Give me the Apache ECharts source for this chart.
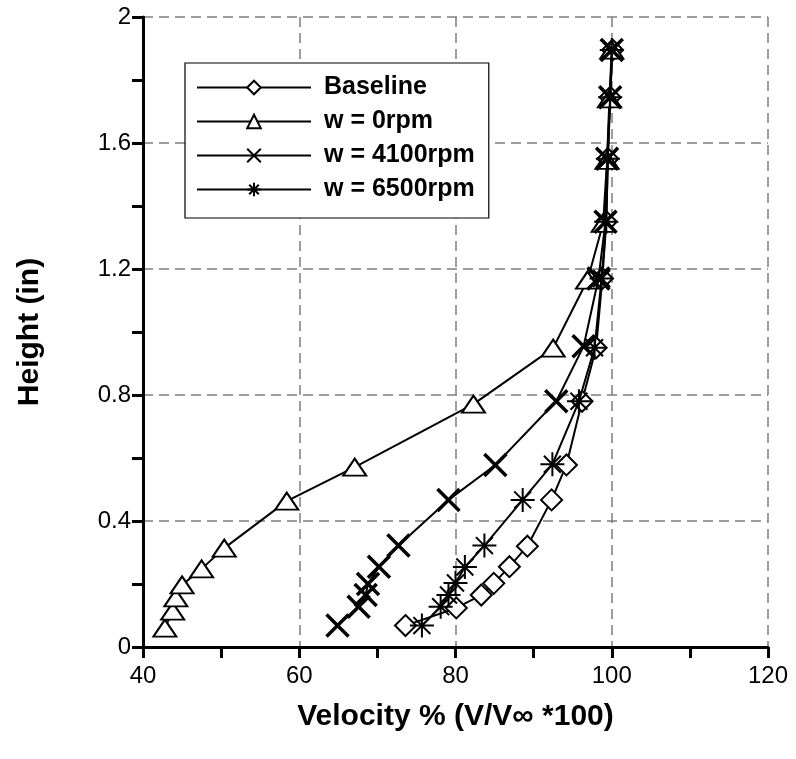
<!DOCTYPE html>
<html>
<head>
<meta charset="utf-8">
<script src="https://cdn.jsdelivr.net/npm/echarts@6/dist/echarts.min.js"></script>
<style>html,body{margin:0;padding:0;background:#fff}#c{width:796px;height:759px}</style>
</head>
<body>
<div id="c"></div>
<script>
const seriesNames = ['Baseline', 'w = 0rpm', 'w = 4100rpm', 'w = 6500rpm'];

const baselineH = [0.068, 0.124, 0.165, 0.202, 0.255, 0.32, 0.467, 0.578, 0.78, 0.95, 1.17, 1.35, 1.55, 1.745, 1.895];
const baselineV = [73.6, 80.1, 83.3, 84.9, 86.9, 89.2, 92.3, 94.2, 96.2, 98.0, 98.8, 99.3, 99.5, 99.8, 100.1];

const rpm0H = [0.06, 0.114, 0.156, 0.197, 0.248, 0.314, 0.463, 0.571, 0.771, 0.949, 1.165, 1.345, 1.545, 1.74, 1.895];
const rpm0V = [42.8, 43.8, 44.2, 45.0, 47.5, 50.4, 58.4, 67.1, 82.3, 92.5, 96.9, 98.9, 99.4, 99.7, 100.0];

const rpm4100H = [0.068, 0.128, 0.165, 0.2, 0.255, 0.322, 0.467, 0.578, 0.78, 0.955, 1.17, 1.35, 1.55, 1.745, 1.895];
const rpm4100V = [64.9, 67.6, 68.5, 68.8, 70.2, 72.7, 79.1, 85.1, 92.9, 96.4, 98.3, 99.2, 99.4, 99.8, 100.0];

const rpm6500H = [0.068, 0.128, 0.165, 0.203, 0.254, 0.322, 0.467, 0.58, 0.78, 0.95, 1.17, 1.35, 1.55, 1.745, 1.895];
const rpm6500V = [75.7, 78.1, 79.1, 80.0, 81.2, 83.7, 88.6, 92.4, 95.8, 97.8, 98.7, 99.3, 99.5, 99.8, 100.0];

const xTicks = [40, 60, 80, 100, 120];
const yTicks = [0, 0.4, 0.8, 1.2, 1.6, 2];

function pairs(v, h) { return v.map((x, i) => [x, h[i]]); }

const FONT = 'Liberation Sans, Arial, Helvetica, sans-serif';
const XPATH = 'path://M-10,-10L10,10M-10,10L10,-10';
const STARPATH = 'path://M0,-10L0,10M-10,0L10,0M-7.07,-7.07L7.07,7.07M-7.07,7.07L7.07,-7.07';

const chart = echarts.init(document.getElementById('c'), null, {renderer: 'canvas'});
const lineStyle = {color: '#000', width: 2};
chart.setOption({
  backgroundColor: '#fff',
  animation: false,
  grid: {left: 143, right: 28, top: 17, bottom: 112, containLabel: false},
  legend: {
    orient: 'vertical',
    left: 185, top: 63,
    padding: [12, 14, 16, 11],
    itemWidth: 114, itemHeight: 17, itemGap: 9,
    borderColor: '#000', borderWidth: 1.2,
    backgroundColor: '#fff',
    textStyle: {fontFamily: FONT, fontWeight: 'bold', fontSize: 25, color: '#000', padding: [0, 0, 0, 8]},
    data: seriesNames
  },
  xAxis: {
    type: 'value', min: 40, max: 120, interval: 20,
    name: 'Velocity % (V/V\u221E *100)', nameLocation: 'middle', nameGap: 55,
    nameTextStyle: {fontFamily: FONT, fontWeight: 'bold', fontSize: 30, color: '#000'},
    axisLine: {show: true, onZero: false, lineStyle: {color: '#000', width: 3}},
    axisTick: {show: true, length: 11, lineStyle: {color: '#000', width: 3}},
    minorTick: {show: true, splitNumber: 2, length: 11, lineStyle: {color: '#000', width: 3}},
    axisLabel: {fontFamily: FONT, fontSize: 24, color: '#000', margin: 17,
      formatter: v => xTicks.includes(v) ? String(v) : ''},
    splitLine: {show: true, lineStyle: {color: '#7f7f7f', width: 1.5, type: [10, 6]}}
  },
  yAxis: {
    type: 'value', min: 0, max: 2, interval: 0.4,
    name: 'Height (in)', nameLocation: 'middle', nameGap: 98, nameRotate: 90,
    nameTextStyle: {fontFamily: FONT, fontWeight: 'bold', fontSize: 30, color: '#000'},
    axisLine: {show: true, onZero: false, lineStyle: {color: '#000', width: 3}},
    axisTick: {show: true, length: 11, lineStyle: {color: '#000', width: 3}},
    minorTick: {show: true, splitNumber: 2, length: 11, lineStyle: {color: '#000', width: 3}},
    axisLabel: {fontFamily: FONT, fontSize: 24, color: '#000', margin: 12,
      formatter: v => { const t = yTicks.find(k => Math.abs(k - v) < 1e-6); return t === undefined ? '' : String(t); }},
    splitLine: {show: true, lineStyle: {color: '#7f7f7f', width: 1.5, type: [10, 6]}}
  },
  series: [
    {name: seriesNames[0], type: 'line', data: pairs(baselineV, baselineH),
     symbol: 'emptyDiamond', symbolSize: 21, lineStyle: lineStyle,
     itemStyle: {color: '#000', borderColor: '#000', borderWidth: 2}, z: 2},
    {name: seriesNames[1], type: 'line', data: pairs(rpm0V, rpm0H),
     symbol: 'emptyTriangle', symbolSize: [23, 17], lineStyle: lineStyle,
     itemStyle: {color: '#000', borderColor: '#000', borderWidth: 2}, z: 3},
    {name: seriesNames[2], type: 'line', data: pairs(rpm4100V, rpm4100H),
     symbol: XPATH, symbolSize: 22, lineStyle: lineStyle,
     itemStyle: {color: '#000', borderColor: '#000', borderWidth: 3.5}, z: 4},
    {name: seriesNames[3], type: 'line', data: pairs(rpm6500V, rpm6500H),
     symbol: STARPATH, symbolSize: 24, lineStyle: lineStyle,
     itemStyle: {color: '#000', borderColor: '#000', borderWidth: 2}, z: 5}
  ]
});
</script>
</body>
</html>
